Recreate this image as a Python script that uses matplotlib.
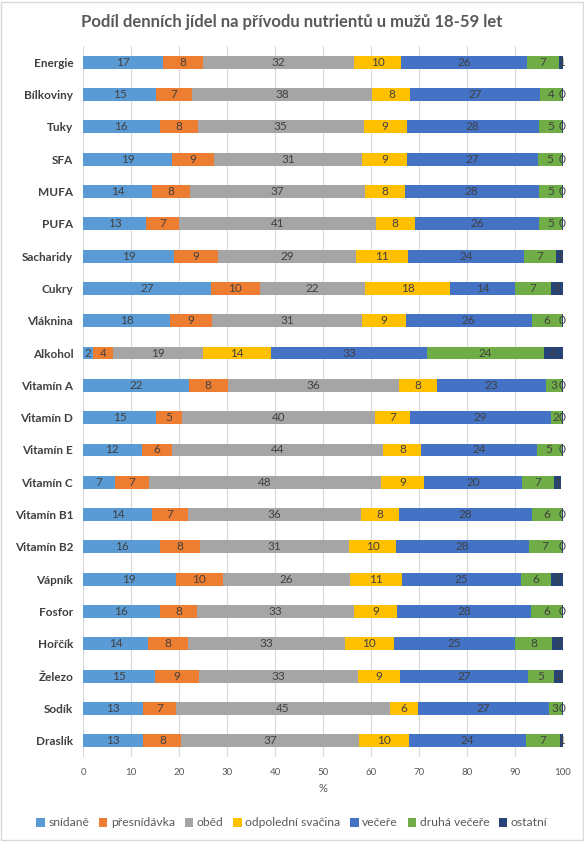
import matplotlib
matplotlib.use("Agg")
from matplotlib import pyplot as plt
from matplotlib.patches import Rectangle

categories = ["Energie", "Bílkoviny", "Tuky", "SFA", "MUFA", "PUFA", "Sacharidy",
              "Cukry", "Vláknina", "Alkohol", "Vitamín A", "Vitamín D", "Vitamín E",
              "Vitamín C", "Vitamín B1", "Vitamín B2", "Vápník", "Fosfor", "Hořčík",
              "Železo", "Sodík", "Draslík"]

snidane = [16.6, 15.3, 16.0, 18.6, 14.4, 13.2, 19.0, 26.6, 18.2, 2.1, 22.0,
           15.3, 12.2, 6.7, 14.4, 16.1, 19.3, 16.0, 13.6, 15.1, 12.6, 12.6]
presnidavka = [8.3, 7.4, 7.9, 8.6, 7.8, 6.9, 9.1, 10.2, 8.7, 4.2, 8.2,
               5.3, 6.4, 7.0, 7.4, 8.2, 9.9, 7.8, 8.2, 9.0, 6.7, 7.9]
obed = [31.6, 37.6, 34.6, 31.0, 36.6, 40.9, 28.8, 22.0, 31.3, 18.8, 35.6,
        40.2, 44.0, 48.4, 36.1, 31.2, 26.4, 32.6, 32.7, 33.2, 44.7, 37.1]
odpoledni = [9.8, 7.9, 8.9, 9.4, 8.2, 8.1, 10.9, 17.7, 9.0, 14.0, 7.9,
             7.4, 7.9, 9.0, 7.9, 9.8, 10.9, 9.0, 10.2, 8.8, 5.8, 10.3]
vecere = [26.2, 27.1, 27.6, 27.2, 28.0, 26.0, 24.1, 13.6, 26.3, 32.6, 22.8,
          29.2, 24.0, 20.4, 27.7, 27.6, 24.7, 28.0, 25.2, 26.6, 27.3, 24.3]
druha_vecere = [6.7, 4.4, 4.7, 4.9, 4.7, 4.6, 6.7, 7.3, 6.2, 24.3, 3.2,
                2.3, 5.2, 6.7, 6.2, 6.8, 6.2, 6.3, 7.9, 5.4, 2.6, 7.1]
ostatni = [0.8, 0.3, 0.3, 0.3, 0.3, 0.3, 1.4, 2.6, 0.3, 4.0, 0.3,
           0.3, 0.3, 1.4, 0.3, 0.3, 2.6, 0.3, 2.2, 1.9, 0.3, 0.7]

series = [("snídaně", snidane, "#5B9BD5"),
          ("přesnídávka", presnidavka, "#ED7D31"),
          ("oběd", obed, "#A5A5A5"),
          ("odpolední svačina", odpoledni, "#FFC000"),
          ("večeře", vecere, "#4472C4"),
          ("druhá večeře", druha_vecere, "#70AD47"),
          ("ostatní", ostatni, "#264478")]

plt.rcParams['font.family'] = ['Lato', 'DejaVu Sans']

fig = plt.figure(figsize=(5.84, 8.42), dpi=100)
ax = fig.add_axes([83 / 584, 1 - 757 / 842, 480 / 584, (757 - 46) / 842])

y = list(range(len(categories)))
left = [0.0] * len(categories)
for name, vals, col in series:
    bars = ax.barh(y, vals, left=left, height=0.4, color=col, label=name, zorder=3)
    ax.bar_label(bars, labels=["%.0f" % v for v in vals], label_type='center',
                 fontsize=8.5, color="#404040")
    left = [a + b for a, b in zip(left, vals)]

ax.set_ylim(len(categories) - 0.5, -0.5)
ax.set_xlim(0, 100)
ax.set_xticks(range(0, 101, 10))
ax.set_yticks(y)
ax.set_yticklabels(categories, fontsize=8.5, fontweight='bold', color="#404040")
ax.tick_params(axis='x', labelsize=7, colors="#595959", length=0, pad=8)
ax.tick_params(axis='y', length=0, pad=7)
ax.grid(axis='x', color="#D9D9D9", linewidth=0.8, zorder=0)
for s in ax.spines.values():
    s.set_visible(False)
ax.set_xlabel("%", fontsize=8, color="#595959", labelpad=4)

fig.suptitle("Podíl denních jídel na přívodu nutrientů u mužů 18-59 let",
             y=1 - 22 / 842, va='center', fontsize=12, fontweight='bold', color="#595959")

fig.legend(loc='center', bbox_to_anchor=(0.5, 1 - 823 / 842), ncol=7, frameon=False,
           fontsize=8.7, handlelength=0.7, handleheight=0.7, handletextpad=0.3,
           columnspacing=0.8, labelcolor="#595959")

fig.patches.append(Rectangle((0.002, 0.002), 0.996, 0.996, transform=fig.transFigure,
                             fill=False, edgecolor="#D9D9D9", linewidth=1))

fig.savefig("out.png", dpi=100)
